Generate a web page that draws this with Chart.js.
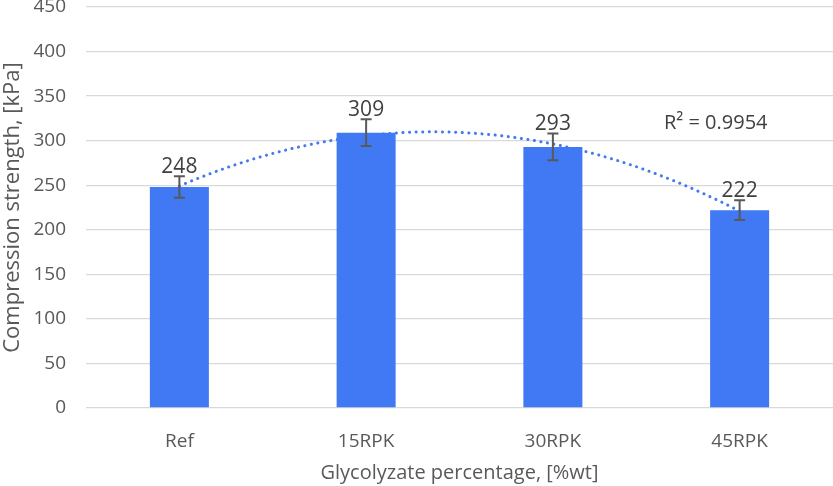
<!DOCTYPE html>
<html>
<head>
<meta charset="utf-8">
<script src="https://cdn.jsdelivr.net/npm/chart.js@4.4.0/dist/chart.umd.min.js"></script>
<style>
  html, body { margin: 0; padding: 0; background: #fff; }
  #wrap { width: 833px; height: 486px; }
</style>
</head>
<body>
<div id="wrap"><canvas id="chartContainer"></canvas></div>
<script>
var categories = ['Ref', '15RPK', '30RPK', '45RPK'];
var strength = [248, 309, 293, 222];
var errors = [12, 15, 15, 11];
var yTicks = [0, 50, 100, 150, 200, 250, 300, 350, 400, 450];
var r2Label = 'R\u00b2 = 0.9954';

// order 2 polynomial trendline (least squares, like the spreadsheet one)
function quadFit(ys) {
	var n = ys.length, xs = [];
	for (var i = 0; i < n; i++) xs.push(i + 1);
	var s = [0, 0, 0, 0, 0], t = [0, 0, 0];
	for (var i = 0; i < n; i++) {
		var p = 1;
		for (var k = 0; k < 5; k++) { s[k] += p; if (k < 3) t[k] += p * ys[i]; p *= xs[i]; }
	}
	var A = [[s[0], s[1], s[2], t[0]], [s[1], s[2], s[3], t[1]], [s[2], s[3], s[4], t[2]]];
	for (var c = 0; c < 3; c++) {
		for (var r = c + 1; r < 3; r++) {
			var f = A[r][c] / A[c][c];
			for (var k = c; k < 4; k++) A[r][k] -= f * A[c][k];
		}
	}
	var b = [0, 0, 0];
	for (var r = 2; r >= 0; r--) {
		var v = A[r][3];
		for (var k = r + 1; k < 3; k++) v -= A[r][k] * b[k];
		b[r] = v / A[r][r];
	}
	return b;
}
var coef = quadFit(strength);
var trend = [];
for (var x = 1; x <= categories.length + 0.001; x += 0.05) {
	trend.push({ x: x, y: coef[0] + coef[1] * x + coef[2] * x * x });
}

var barColor = '#4178f4';
var textGray = '#595959';
var labelGray = '#404040';

var extras = {
	id: 'extras',
	afterDatasetsDraw: function (chart) {
		var ctx = chart.ctx, xs = chart.scales.x, ys = chart.scales.y;
		ctx.save();
		ctx.strokeStyle = '#595959';
		ctx.lineWidth = 2;
		for (var i = 0; i < strength.length; i++) {
			var cx = xs.getPixelForValue(i);
			var top = ys.getPixelForValue(strength[i] + errors[i]);
			var bot = ys.getPixelForValue(strength[i] - errors[i]);
			ctx.beginPath();
			ctx.moveTo(cx, top); ctx.lineTo(cx, bot);
			ctx.moveTo(cx - 5.5, top); ctx.lineTo(cx + 5.5, top);
			ctx.moveTo(cx - 5.5, bot); ctx.lineTo(cx + 5.5, bot);
			ctx.stroke();
			ctx.fillStyle = labelGray;
			ctx.font = '21px "Open Sans"';
			ctx.textAlign = 'center';
			ctx.textBaseline = 'bottom';
			ctx.fillText(String(strength[i]), cx, top + 1);
		}
		ctx.fillStyle = labelGray;
		ctx.font = '20px "Open Sans"';
		ctx.textAlign = 'left';
		ctx.textBaseline = 'middle';
		ctx.fillText(r2Label, 664, 123);
		ctx.restore();
	}
};

var ctx = document.getElementById('chartContainer').getContext('2d');
var chart = new Chart(ctx, {
	data: {
		labels: categories,
		datasets: [{
			type: 'bar',
			data: strength,
			backgroundColor: barColor,
			grouped: false,
			barPercentage: 0.316,
			categoryPercentage: 1,
			order: 2
		}, {
			type: 'line',
			data: trend,
			xAxisID: 'xt',
			borderColor: barColor,
			borderWidth: 3,
			borderDash: [0.1, 6.5],
			borderCapStyle: 'round',
			pointRadius: 0,
			fill: false,
			order: 1
		}]
	},
	plugins: [extras],
	options: {
		responsive: true,
		maintainAspectRatio: false,
		animation: false,
		layout: { padding: { top: 0, right: 0, left: 0, bottom: 0 } },
		plugins: { legend: { display: false }, tooltip: { enabled: false } },
		scales: {
			x: {
				afterFit: function (axis) { axis.height = 78; },
				grid: { display: false },
				border: { display: false },
				ticks: { color: textGray, font: { family: 'Open Sans', size: 19 }, padding: 14 },
				title: { display: true, text: 'Glycolyzate percentage, [%wt]', color: textGray, font: { family: 'Open Sans', size: 20 }, padding: { top: 0, bottom: 1 } }
			},
			xt: {
				type: 'linear',
				display: false,
				min: 0.5,
				max: categories.length + 0.5
			},
			y: {
				min: 0,
				max: 450,
				afterFit: function (axis) { axis.width = 86; axis.paddingTop = 7; axis.paddingBottom = 0; },
				afterBuildTicks: function (axis) { axis.ticks = yTicks.map(function (v) { return { value: v }; }); },
				grid: { color: '#d9d9d9', lineWidth: 1.3, drawTicks: false },
				border: { display: false },
				ticks: { color: textGray, font: { family: 'Open Sans', size: 19 }, padding: 20 },
				title: { display: true, text: 'Compression strength, [kPa]', color: textGray, font: { family: 'Open Sans', size: 22 }, padding: { top: 0, bottom: 0 } }
			}
		}
	}
});
</script>
</body>
</html>
